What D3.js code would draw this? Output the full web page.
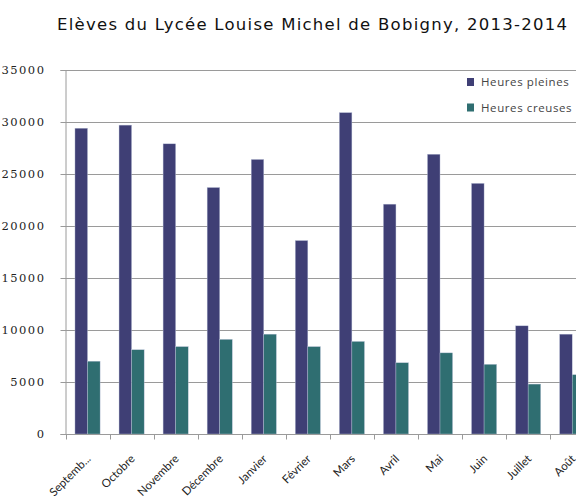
<!DOCTYPE html>
<html>
<head>
<meta charset="utf-8">
<script src="https://cdn.jsdelivr.net/npm/d3@7"></script>
<style>
  body { margin: 0; background: #fff; }
  svg { display: block; }
</style>
</head>
<body>
<div id="chart"></div>
<script>
// month labels, as on the axis
var mois = ["Septemb...", "Octobre", "Novembre", "Décembre", "Janvier", "Février",
            "Mars", "Avril", "Mai", "Juin", "Juillet", "Août"];
var pleines = [29400, 29700, 27900, 23700, 26400, 18600, 30900, 22100, 26900, 24100, 10400, 9600];
var creuses = [7000, 8100, 8400, 9100, 9600, 8400, 8900, 6850, 7800, 6700, 4800, 5700];
var yTicks = [0, 5000, 10000, 15000, 20000, 25000, 30000, 35000];
var series = ["Heures pleines", "Heures creuses"];
var couleurs = ["#3f3f75", "#2f6e71"];

var W = 576, H = 501;
var mLeft = 65, mTop = 70, mBottom = 434;
var bandW = 44.06;

var svg = d3.select('#chart').append('svg')
  .attr('width', W)
  .attr('height', H);

var x = d3.scaleBand()
  .domain(mois)
  .range([mLeft + 0.5, mLeft + 0.5 + bandW * mois.length])
  .paddingInner(0.43)
  .paddingOuter(0.215);

var x1 = d3.scaleBand()
  .domain(series)
  .range([0, x.bandwidth()]);

var y = d3.scaleLinear()
  .domain([0, 35000])
  .range([mBottom, mTop]);

// title
svg.append('text')
  .attr('x', 57)
  .attr('y', 30)
  .attr('font-family', 'DejaVu Sans, Verdana, sans-serif')
  .attr('font-size', '16.5px')
  .attr('fill', '#111')
  .attr('textLength', 510)
  .attr('lengthAdjust', 'spacing')
  .text('Elèves du Lycée Louise Michel de Bobigny, 2013-2014');

// gridlines
svg.append('g').selectAll('line')
  .data(yTicks.filter(function(d) { return d > 0; }))
  .enter().append('line')
  .attr('x1', mLeft).attr('x2', W)
  .attr('y1', function(d) { return Math.round(y(d)) + 0.5; })
  .attr('y2', function(d) { return Math.round(y(d)) + 0.5; })
  .attr('stroke', '#9a9a9a')
  .attr('stroke-width', 1);

// y axis
var yAxis = svg.append('g')
  .attr('transform', 'translate(' + (mLeft + 0.5) + ',0)')
  .call(d3.axisLeft(y).tickValues(yTicks).tickSize(5).tickPadding(15).tickFormat(d3.format('d')));
yAxis.select('.domain').attr('stroke', '#9a9a9a');
yAxis.selectAll('.tick line').attr('stroke', '#9a9a9a');
yAxis.selectAll('text')
  .attr('font-family', 'DejaVu Serif, Tahoma, serif')
  .attr('font-size', '11.5px')
  .attr('letter-spacing', '1.5px')
  .attr('fill', '#222');

// bars
var groupes = svg.append('g').selectAll('g')
  .data(mois)
  .enter().append('g')
  .attr('transform', function(d) { return 'translate(' + x(d) + ',0)'; });

groupes.selectAll('rect')
  .data(function(d, i) { return [pleines[i], creuses[i]]; })
  .enter().append('rect')
  .attr('x', function(d, j) { return x1(series[j]); })
  .attr('y', function(d) { return y(d); })
  .attr('width', x1.bandwidth())
  .attr('height', function(d) { return mBottom - y(d); })
  .attr('fill', function(d, j) { return couleurs[j]; })
  .attr('stroke', '#b9c0d8')
  .attr('stroke-width', 0.4);

// x axis, ticks between the months
var xAxis = svg.append('g')
  .attr('transform', 'translate(0,' + (mBottom + 0.5) + ')');
xAxis.append('line')
  .attr('x1', mLeft).attr('x2', W)
  .attr('stroke', '#9a9a9a');
xAxis.selectAll('.sep')
  .data(d3.range(mois.length + 1))
  .enter().append('line')
  .attr('class', 'sep')
  .attr('x1', function(i) { return Math.round(mLeft + 0.5 + i * bandW) + 0.5; })
  .attr('x2', function(i) { return Math.round(mLeft + 0.5 + i * bandW) + 0.5; })
  .attr('y1', 0).attr('y2', 5)
  .attr('stroke', '#9a9a9a');
xAxis.selectAll('text')
  .data(mois)
  .enter().append('text')
  .attr('transform', function(d) {
    return 'translate(' + (x(d) + x.bandwidth() / 2 + 4) + ',25) rotate(-45)';
  })
  .attr('text-anchor', 'end')
  .attr('font-family', 'Lato, Open Sans, sans-serif')
  .attr('font-size', '11.5px')
  .attr('fill', '#222')
  .text(function(d) { return d; });

// legend
var legende = svg.append('g').selectAll('g')
  .data(series)
  .enter().append('g')
  .attr('transform', function(d, i) { return 'translate(467,' + (78 + i * 25.5) + ')'; });
legende.append('rect')
  .attr('width', 7).attr('height', 8)
  .attr('fill', function(d, i) { return couleurs[i]; });
legende.append('text')
  .attr('x', 14).attr('y', 8)
  .attr('font-family', 'Open Sans, Liberation Sans, sans-serif')
  .attr('font-size', '11.5px')
  .attr('letter-spacing', '0.6px')
  .attr('fill', '#444')
  .text(function(d) { return d; });
</script>
</body>
</html>
